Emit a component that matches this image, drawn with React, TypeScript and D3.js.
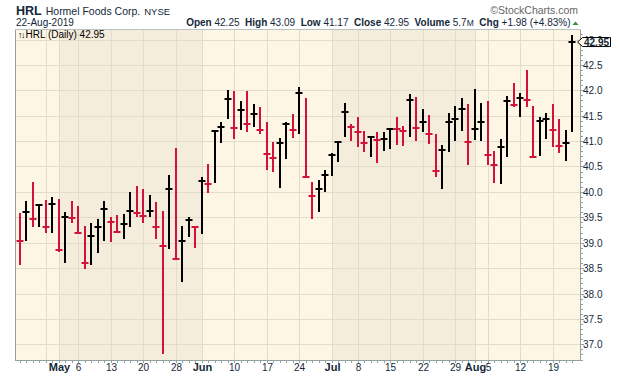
import React from "react";
import * as d3 from "d3";

// ---- data ----
const DATES = [
  "2019-04-23","2019-04-24","2019-04-25","2019-04-26","2019-04-29","2019-04-30",
  "2019-05-01","2019-05-02","2019-05-03","2019-05-06","2019-05-07","2019-05-08","2019-05-09","2019-05-10",
  "2019-05-13","2019-05-14","2019-05-15","2019-05-16","2019-05-17","2019-05-20","2019-05-21","2019-05-22",
  "2019-05-23","2019-05-24","2019-05-28","2019-05-29","2019-05-30","2019-05-31",
  "2019-06-03","2019-06-04","2019-06-05","2019-06-06","2019-06-07","2019-06-10","2019-06-11","2019-06-12",
  "2019-06-13","2019-06-14","2019-06-17","2019-06-18","2019-06-19","2019-06-20","2019-06-21","2019-06-24",
  "2019-06-25","2019-06-26","2019-06-27","2019-06-28",
  "2019-07-01","2019-07-02","2019-07-03","2019-07-05","2019-07-08","2019-07-09","2019-07-10","2019-07-11",
  "2019-07-12","2019-07-15","2019-07-16","2019-07-17","2019-07-18","2019-07-19","2019-07-22","2019-07-23",
  "2019-07-24","2019-07-25","2019-07-26","2019-07-29","2019-07-30","2019-07-31",
  "2019-08-01","2019-08-02","2019-08-05","2019-08-06","2019-08-07","2019-08-08","2019-08-09","2019-08-12",
  "2019-08-13","2019-08-14","2019-08-15","2019-08-16","2019-08-19","2019-08-20","2019-08-21","2019-08-22",
];

const HIGH = [
  39.59,39.82,40.19,39.76,39.84,39.89,39.86,39.61,39.82,39.72,39.33,39.38,39.47,39.82,39.50,39.55,39.56,40.00,
  40.12,40.06,39.94,39.81,39.62,40.33,40.86,39.33,39.51,39.30,40.29,40.55,41.22,41.37,42.01,41.99,41.79,41.99,
  41.73,41.67,41.38,40.98,41.07,41.37,41.53,42.06,41.84,40.19,40.23,40.44,40.76,40.99,41.75,41.34,41.47,41.20,
  41.10,41.18,41.18,41.24,41.47,41.30,41.92,41.86,41.64,41.51,41.13,40.92,41.55,41.70,41.84,41.73,42.02,41.75,
  41.78,40.81,41.05,41.89,42.15,41.95,42.40,41.69,41.47,41.56,41.73,41.44,41.22,43.09,
];
const LOW = [
  38.56,39.03,39.31,39.31,39.19,39.20,38.82,38.61,39.38,39.17,38.48,38.57,38.80,39.03,39.02,39.19,39.07,39.31,
  39.51,39.39,39.51,39.07,36.81,38.87,38.65,38.23,39.12,38.90,39.18,39.98,40.18,40.97,41.43,41.04,41.22,41.18,
  41.27,41.14,40.43,40.40,40.08,40.65,41.07,41.13,40.30,39.47,39.61,40.00,40.32,40.59,41.09,41.00,40.88,40.79,
  40.68,40.57,40.81,40.84,40.92,40.91,41.09,41.01,41.17,40.94,40.29,40.05,40.79,41.01,41.19,40.53,41.02,41.00,
  40.52,40.18,40.15,40.69,41.68,41.48,41.67,40.66,40.71,41.05,40.89,40.77,40.61,41.17,
];
const CLOSE = [
  39.04,39.61,39.47,39.74,39.30,39.76,38.86,39.51,39.49,39.19,38.61,39.13,39.31,39.67,39.40,39.22,39.37,39.63,
  39.59,39.53,39.63,39.30,38.94,40.06,38.67,39.03,39.44,39.30,40.21,40.15,41.20,41.28,41.83,41.26,41.61,41.34,
  41.54,41.22,40.75,40.67,40.97,41.34,41.21,41.94,40.30,39.92,40.06,40.34,40.72,40.98,41.57,41.28,41.17,40.97,
  41.08,41.02,41.04,41.24,41.23,41.20,41.80,41.26,41.37,41.13,40.42,40.82,41.38,41.44,41.63,40.99,41.23,41.37,
  40.73,40.52,40.89,41.79,41.71,41.84,41.80,40.69,41.40,41.44,41.22,40.91,40.97,42.95,
];
const PRIOR_CLOSE = 39.30; // close before the first bar (estimated)

const MONTH_STARTS = ["2019-05-01", "2019-06-03", "2019-07-01", "2019-08-01"];
const GRID_DATES = [
  "2019-04-29","2019-05-01","2019-05-06","2019-05-13","2019-05-20","2019-05-28",
  "2019-06-03","2019-06-10","2019-06-17","2019-06-24","2019-07-01","2019-07-08",
  "2019-07-15","2019-07-22","2019-07-29","2019-08-01","2019-08-05","2019-08-12","2019-08-19",
];
const X_LABEL_DATES = [
  "2019-05-01","2019-05-06","2019-05-13","2019-05-20","2019-05-28",
  "2019-06-03","2019-06-10","2019-06-17","2019-06-24","2019-07-01","2019-07-08",
  "2019-07-15","2019-07-22","2019-07-29","2019-08-01","2019-08-05","2019-08-12","2019-08-19",
];
const X_LABEL_TEXTS = [
  "May","6","13","20","28","Jun","10","17","24","Jul","8","15","22","29","Aug","5","12","19",
];
const Y_TICKS = [37.0,37.5,38.0,38.5,39.0,39.5,40.0,40.5,41.0,41.5,42.0,42.5,43.0];

// ---- layout ----
const W = 620, H = 376;
const L = 16, R = 580, T = 29.5, B = 360;
const FONT = "'Liberation Sans', Arial, Helvetica, sans-serif";
const TXT = "#13283a";
const UP = "#000000";
const DOWN = "#d2123a";
const BG_LIGHT = "#fdf6e4";
const BG_DARK = "#f4eddc";
const GRID = "#e4dccb";
const AXIS = "#93a1a1";

export default function App() {
  const x = d3.scalePoint<string>().domain(DATES).range([19.8, 19.8 + 6.5 * (DATES.length - 1)]);
  const y = d3.scaleLinear().domain([37, 43]).range([344.3, 39.5]);
  const px = (d: string) => Math.round(x(d) as number);

  // month shading
  const bounds = [L, ...MONTH_STARTS.map(px), R];
  const shades = bounds.slice(0, -1).map((b, i) => ({ x0: b, x1: bounds[i + 1], dark: i % 2 === 1 }));

  const minorY = d3.range(367, 432).map((v) => v / 10).filter((v) => y(v) >= T && y(v) <= B);

  const last = CLOSE[CLOSE.length - 1];
  const ly = y(last);

  return (
    <svg width={W} height={H} style={{ position: "absolute", left: 0, top: 0, display: "block", background: "#fff" }}>
      {/* header */}
      <text x={16} y={14.5} fontFamily={FONT} fill={TXT}>
        <tspan fontSize={12.5} fontWeight="bold">HRL</tspan>
        <tspan fontSize={10.5} dx={4}>Hormel Foods Corp.</tspan>
        <tspan fontSize={9.5} dx={4}>NYSE</tspan>
      </text>
      <text x={578} y={13.5} fontFamily={FONT} fontSize={10.5} fill="#666" textAnchor="end">©StockCharts.com</text>
      <text x={16} y={26} fontFamily={FONT} fontSize={10} fill={TXT}>22-Aug-2019</text>
      <text x={570.5} y={26} fontFamily={FONT} fontSize={10} fill={TXT} textAnchor="end" style={{ whiteSpace: "pre" }}>
        <tspan fontWeight="bold">Open</tspan><tspan> 42.25  </tspan>
        <tspan fontWeight="bold">High</tspan><tspan> 43.09  </tspan>
        <tspan fontWeight="bold">Low</tspan><tspan> 41.17  </tspan>
        <tspan fontWeight="bold">Close</tspan><tspan> 42.95  </tspan>
        <tspan fontWeight="bold">Volume</tspan><tspan> 5.7</tspan><tspan fontSize={8.5}>M</tspan><tspan>  </tspan>
        <tspan fontWeight="bold">Chg</tspan><tspan> +1.98 (+4.83%)</tspan>
      </text>
      <path d="M572.5,25 L575.5,21.5 L578.5,25 Z" fill="#2f8f2f" />

      {/* panel background */}
      {shades.map((s, i) => (
        <rect key={i} x={s.x0} y={T} width={s.x1 - s.x0} height={B - T} fill={s.dark ? BG_DARK : BG_LIGHT} />
      ))}
      {/* grid */}
      {Y_TICKS.map((v) => (
        <line key={v} x1={L} x2={R} y1={Math.round(y(v)) + 0.5} y2={Math.round(y(v)) + 0.5} stroke={GRID} strokeWidth={1} />
      ))}
      {GRID_DATES.map((d) => (
        <line key={d} x1={px(d) + 0.5} x2={px(d) + 0.5} y1={T} y2={B} stroke={GRID} strokeWidth={1} />
      ))}

      {/* legend */}
      <text x={18} y={37.5} fontFamily={FONT} fontSize={10} fill="#000">
        <tspan fontSize={9} letterSpacing={-1.5}>↑↓</tspan>
        <tspan dx={1.5}>HRL (Daily) 42.95</tspan>
      </text>

      {/* bars */}
      {DATES.map((d, i) => {
        const cx = px(d);
        const prev = i === 0 ? PRIOR_CLOSE : CLOSE[i - 1];
        const col = CLOSE[i] >= prev ? UP : DOWN;
        const yh = Math.round(y(HIGH[i]));
        const yl = Math.round(y(LOW[i]));
        const yc = Math.round(y(CLOSE[i]));
        return (
          <g key={d} fill={col}>
            <rect x={cx - 1} y={yh} width={2} height={Math.max(2, yl - yh)} />
            <rect x={cx - 3.5} y={yc - 1} width={7} height={2} />
          </g>
        );
      })}

      {/* borders */}
      <line x1={L} x2={R} y1={T} y2={T} stroke="#b8c2c2" strokeWidth={1} />
      <line x1={L - 0.5} x2={L - 0.5} y1={T} y2={B} stroke={AXIS} strokeWidth={1} />
      <line x1={R + 0.5} x2={R + 0.5} y1={T} y2={B + 1} stroke={AXIS} strokeWidth={1} />
      <line x1={L - 1} x2={R + 1} y1={B + 0.5} y2={B + 0.5} stroke={AXIS} strokeWidth={1} />

      {/* x axis minor ticks */}
      {DATES.map((d) => (
        <line key={"t" + d} x1={px(d) + 0.5} x2={px(d) + 0.5} y1={B + 1} y2={B + 3} stroke={AXIS} strokeWidth={1} />
      ))}
      {X_LABEL_DATES.map((d, i) => {
        const t = X_LABEL_TEXTS[i];
        const bold = /^[A-Z]/.test(t);
        return (
          <text key={"l" + d} x={px(d) + 0.5} y={371} textAnchor="middle" fontFamily={FONT}
            fontSize={bold ? 11 : 10} fontWeight={bold ? "bold" : "normal"} fill={TXT}>
            {t}
          </text>
        );
      })}

      {/* y axis */}
      {minorY.map((v) => (
        <line key={"m" + v} x1={R + 1} x2={R + 3} y1={Math.round(y(v)) + 0.5} y2={Math.round(y(v)) + 0.5} stroke={AXIS} strokeWidth={1} />
      ))}
      {Y_TICKS.map((v) => (
        <g key={"y" + v}>
          <line x1={R + 1} x2={R + 4} y1={Math.round(y(v)) + 0.5} y2={Math.round(y(v)) + 0.5} stroke={AXIS} strokeWidth={1} />
          <text x={583} y={Math.round(y(v)) + 4} fontFamily={FONT} fontSize={10} fill={TXT}>{v.toFixed(1)}</text>
        </g>
      ))}

      {/* last price tag */}
      <path
        d={`M577.5,${ly} L582.5,${ly - 4.5} L610.5,${ly - 4.5} L610.5,${ly + 4.5} L582.5,${ly + 4.5} Z`}
        fill="#fffdf5" stroke="#000" strokeWidth={1}
      />
      <text x={596.5} y={ly + 3.6} textAnchor="middle" fontFamily={FONT} fontSize={10} fontWeight="bold" fill={TXT}>
        {last.toFixed(2)}
      </text>
    </svg>
  );
}
